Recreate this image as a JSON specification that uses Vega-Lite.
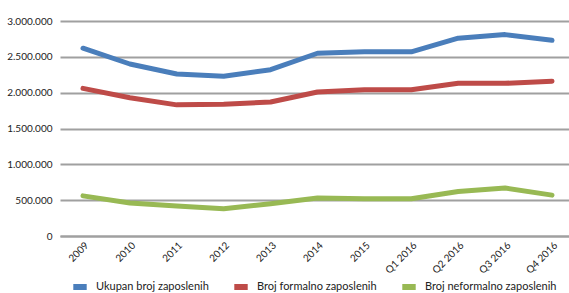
{
  "$schema": "https://vega.github.io/schema/vega-lite/v6.json",
  "width": 515,
  "height": 215,
  "autosize": {"type": "none"},
  "padding": {"left": 60, "top": 21, "right": 0, "bottom": 57},
  "config": {
    "locale": {"number": {"decimal": ",", "thousands": ".", "grouping": [3], "currency": ["", ""]}},
    "view": {"stroke": null},
    "font": "Lato"
  },
  "data": {
    "values": [
      {"period": "2009", "series": "Ukupan broj zaposlenih", "value": 2620000},
      {"period": "2010", "series": "Ukupan broj zaposlenih", "value": 2400000},
      {"period": "2011", "series": "Ukupan broj zaposlenih", "value": 2260000},
      {"period": "2012", "series": "Ukupan broj zaposlenih", "value": 2230000},
      {"period": "2013", "series": "Ukupan broj zaposlenih", "value": 2320000},
      {"period": "2014", "series": "Ukupan broj zaposlenih", "value": 2550000},
      {"period": "2015", "series": "Ukupan broj zaposlenih", "value": 2570000},
      {"period": "Q1 2016", "series": "Ukupan broj zaposlenih", "value": 2570000},
      {"period": "Q2 2016", "series": "Ukupan broj zaposlenih", "value": 2760000},
      {"period": "Q3 2016", "series": "Ukupan broj zaposlenih", "value": 2810000},
      {"period": "Q4 2016", "series": "Ukupan broj zaposlenih", "value": 2730000},
      {"period": "2009", "series": "Broj formalno zaposlenih", "value": 2060000},
      {"period": "2010", "series": "Broj formalno zaposlenih", "value": 1930000},
      {"period": "2011", "series": "Broj formalno zaposlenih", "value": 1830000},
      {"period": "2012", "series": "Broj formalno zaposlenih", "value": 1840000},
      {"period": "2013", "series": "Broj formalno zaposlenih", "value": 1870000},
      {"period": "2014", "series": "Broj formalno zaposlenih", "value": 2010000},
      {"period": "2015", "series": "Broj formalno zaposlenih", "value": 2040000},
      {"period": "Q1 2016", "series": "Broj formalno zaposlenih", "value": 2040000},
      {"period": "Q2 2016", "series": "Broj formalno zaposlenih", "value": 2130000},
      {"period": "Q3 2016", "series": "Broj formalno zaposlenih", "value": 2130000},
      {"period": "Q4 2016", "series": "Broj formalno zaposlenih", "value": 2160000},
      {"period": "2009", "series": "Broj neformalno zaposlenih", "value": 560000},
      {"period": "2010", "series": "Broj neformalno zaposlenih", "value": 460000},
      {"period": "2011", "series": "Broj neformalno zaposlenih", "value": 420000},
      {"period": "2012", "series": "Broj neformalno zaposlenih", "value": 380000},
      {"period": "2013", "series": "Broj neformalno zaposlenih", "value": 450000},
      {"period": "2014", "series": "Broj neformalno zaposlenih", "value": 530000},
      {"period": "2015", "series": "Broj neformalno zaposlenih", "value": 520000},
      {"period": "Q1 2016", "series": "Broj neformalno zaposlenih", "value": 520000},
      {"period": "Q2 2016", "series": "Broj neformalno zaposlenih", "value": 620000},
      {"period": "Q3 2016", "series": "Broj neformalno zaposlenih", "value": 670000},
      {"period": "Q4 2016", "series": "Broj neformalno zaposlenih", "value": 570000}
    ]
  },
  "mark": {"type": "line", "strokeWidth": 5, "strokeCap": "round", "strokeJoin": "round"},
  "encoding": {
    "x": {
      "field": "period", "type": "ordinal", "sort": null,
      "scale": {"type": "point", "padding": 0.49},
      "axis": {
        "title": null, "labelAngle": -45, "ticks": false, "grid": false,
        "domainColor": "#a0a0a0", "domainWidth": 2,
        "labelFontSize": 10, "labelColor": "#222", "labelPadding": 4
      }
    },
    "y": {
      "field": "value", "type": "quantitative",
      "scale": {"domain": [0, 3000000]},
      "axis": {
        "title": null, "values": [0, 500000, 1000000, 1500000, 2000000, 2500000, 3000000],
        "format": ",.0f", "domain": false, "ticks": false,
        "gridColor": "#a0a0a0", "gridWidth": 2, "gridOpacity": 1,
        "labelFontSize": 10, "labelColor": "#222", "labelPadding": 8
      }
    },
    "color": {
      "field": "series", "type": "nominal",
      "scale": {
        "domain": ["Ukupan broj zaposlenih", "Broj formalno zaposlenih", "Broj neformalno zaposlenih"],
        "range": ["#4a7ebb", "#be4b48", "#98b954"]
      },
      "legend": {
        "title": null, "orient": "none", "direction": "horizontal",
        "legendX": 10, "legendY": 256,
        "symbolType": "stroke", "symbolSize": 180, "symbolStrokeWidth": 6,
        "labelFontSize": 11, "labelColor": "#222", "columnPadding": 13, "labelOffset": 6
      }
    }
  }
}
